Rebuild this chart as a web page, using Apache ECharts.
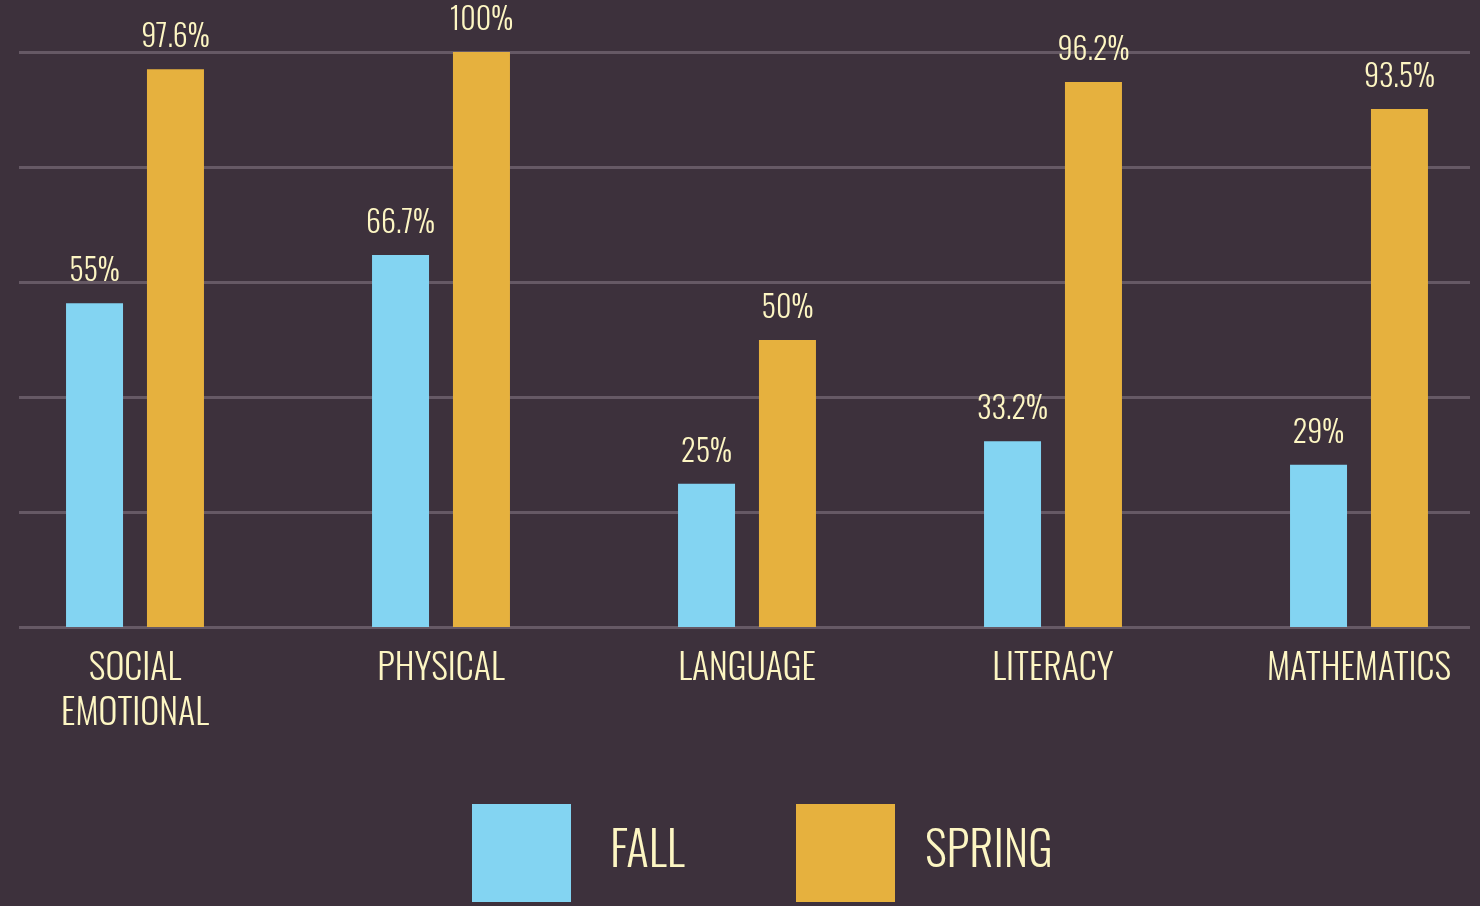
<!DOCTYPE html>
<html>
<head>
<meta charset="utf-8">
<script src="https://cdn.jsdelivr.net/npm/echarts@6/dist/echarts.min.js"></script>
<style>
html,body{margin:0;padding:0;background:#3d313c;}
#chart{width:1480px;height:906px;}
</style>
</head>
<body>
<div id="chart"></div>
<script>
const categories = ['SOCIAL\nEMOTIONAL', 'PHYSICAL', 'LANGUAGE', 'LITERACY', 'MATHEMATICS'];
const fallValues = [56.3, 64.7, 24.9, 32.3, 28.2];
const springValues = [97.0, 100, 49.9, 94.8, 90.1];
const fallLabels = ['55%', '66.7%', '25%', '33.2%', '29%'];
const springLabels = ['97.6%', '100%', '50%', '96.2%', '93.5%'];

const FONT = 'Oswald, "Roboto Condensed", sans-serif';
const TXT = '#fdf6c3';
const chart = echarts.init(document.getElementById('chart'), null, {renderer: 'canvas'});
const valueLabel = (arr) => ({
  show: true, position: 'top', distance: 16,
  color: TXT, fontFamily: FONT, fontWeight: 300, fontSize: 30,
  formatter: (p) => arr[p.dataIndex]
});
chart.setOption({
  backgroundColor: '#3d313c',
  animation: false,
  grid: [
    {left: -18, width: 1530, top: 52, bottom: 279, outerBoundsMode: 'none', containLabel: false},
    {left: 19, right: 10, top: 52, bottom: 279, outerBoundsMode: 'none', containLabel: false}
  ],
  legend: [
    {data: ['FALL'], left: 467, top: 799, itemWidth: 99, itemHeight: 98, icon: 'rect',
     textStyle: {color: TXT, fontFamily: FONT, fontWeight: 300, fontSize: 47, padding: [0, 0, 0, 34]}},
    {data: ['SPRING'], left: 791, top: 799, itemWidth: 99, itemHeight: 98, icon: 'rect',
     textStyle: {color: TXT, fontFamily: FONT, fontWeight: 300, fontSize: 47, padding: [0, 0, 0, 25]}}
  ],
  xAxis: [
    {type: 'category', gridIndex: 0, data: categories,
     axisLine: {show: false}, axisTick: {show: false},
     axisLabel: {interval: 0, color: TXT, fontFamily: FONT, fontWeight: 300, fontSize: 36, lineHeight: 45, margin: 20}},
    {type: 'value', gridIndex: 1, min: 0, max: 1, show: false}
  ],
  yAxis: [
    {type: 'value', gridIndex: 0, min: 0, max: 100, interval: 20, show: false},
    {type: 'value', gridIndex: 1, min: 0, max: 100, interval: 20,
     axisLine: {show: false}, axisTick: {show: false}, axisLabel: {show: false},
     splitLine: {show: true, lineStyle: {color: '#665965', width: 3}}}
  ],
  series: [
    {name: 'FALL', type: 'bar', xAxisIndex: 0, yAxisIndex: 0, data: fallValues,
     barWidth: 57, barGap: '42%', itemStyle: {color: '#83d4f2'}, label: valueLabel(fallLabels)},
    {name: 'SPRING', type: 'bar', xAxisIndex: 0, yAxisIndex: 0, data: springValues,
     barWidth: 57, barGap: '42%', itemStyle: {color: '#e6b13e'}, label: valueLabel(springLabels)}
  ]
});
</script>
</body>
</html>
